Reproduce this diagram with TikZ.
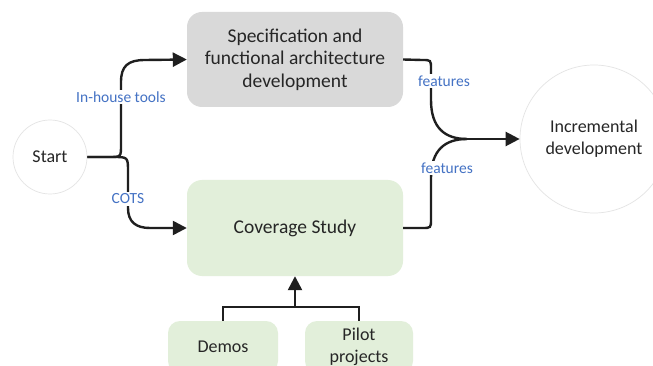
\documentclass[tikz,border=0pt]{standalone}
\usepackage{fontspec}
\setmainfont{Carlito}
\usetikzlibrary{arrows.meta}
\definecolor{specgray}{HTML}{D9D9D9}
\definecolor{covgreen}{HTML}{E2EFDA}
\definecolor{lblblue}{HTML}{4472C4}
\definecolor{txt}{HTML}{262626}
\definecolor{ringgray}{HTML}{E4E4E4}
\tikzset{
  boxgray/.style={rounded corners=15pt, fill=specgray, draw=none, text=txt, align=center,
    font=\fontsize{19.5}{22.5}\selectfont},
  boxgreen/.style={rounded corners=15pt, fill=covgreen, draw=none, text=txt, align=center,
    font=\fontsize{19.5}{22.5}\selectfont},
  smallgreen/.style={rounded corners=12pt, fill=covgreen, draw=none, text=txt, align=center,
    font=\fontsize{18}{22}\selectfont},
  ring/.style={circle, draw=ringgray, line width=0.7pt, fill=white, text=txt, align=center,
    font=\fontsize{18}{22}\selectfont, inner sep=0pt},
  conn/.style={line width=2.4pt, draw=black!88},
  arr/.style={conn, -{Triangle[length=14pt,width=14pt]}},
  lbl/.style={fill=white, text=lblblue, font=\fontsize{15.5}{18}\selectfont, inner sep=1.5pt}
}
\begin{document}
\begin{tikzpicture}[x=1pt,y=-1pt]
\useasboundingbox (0,0) rectangle (653,366);
\clip (0,0) rectangle (653,366);
\fill[white] (0,0) rectangle (653,366);
% nodes
\node[ring, minimum size=74pt] (start) at (50,157) {Start};
\node[boxgray, minimum width=216pt, minimum height=95pt] (spec) at (295,59.5)
  {Specification and\\functional architecture\\development};
\node[boxgreen, minimum width=216pt, minimum height=96pt] (cov) at (295,228) {Coverage Study};
\node[ring, minimum size=148pt] (inc) at (594,139) {Incremental\\development};
\node[smallgreen, minimum width=110pt, minimum height=52pt] (demos) at (223,347) {Demos};
\node[smallgreen, minimum width=108pt, minimum height=52pt] (pilot) at (359,347) {Pilot\\projects};
\coordinate (J) at (467,139);
\coordinate (B) at (295,307);
% left connectors
\draw[arr] (start.east) -- (109,157) .. controls (121,157) .. (121,145) -- (121,82)
  .. controls (121,66) and (128,60) .. (145,60) -- (spec.west);
\draw[arr] (start.east) -- (113,157) .. controls (128,157) .. (128,172) -- (128,208)
  .. controls (128,222) and (136,228) .. (150,228) -- (cov.west);
\node[lbl] (lih) at (121,97) {In-house tools};
\node[lbl] (lcots) at (128,199) {COTS};
% right connectors
\draw[conn] (spec.east) -- (422,60) .. controls (431,60) .. (431,69) -- (431,100)
  .. controls (431,128) and (445,139) .. (J);
\draw[conn] (cov.east) -- (422,228) .. controls (431,228) .. (431,219) -- (431,178)
  .. controls (431,150) and (445,139) .. (J);
\draw[arr] (J) -- (inc.west);
\node[lbl] (lf1) at (444,81) {features};
\node[lbl] (lf2) at (447,168) {features};
% bottom connectors
\draw[conn] (demos.north) |- (B) -| (pilot.north);
\draw[arr] (B) -- (cov.south);
\end{tikzpicture}
\end{document}
